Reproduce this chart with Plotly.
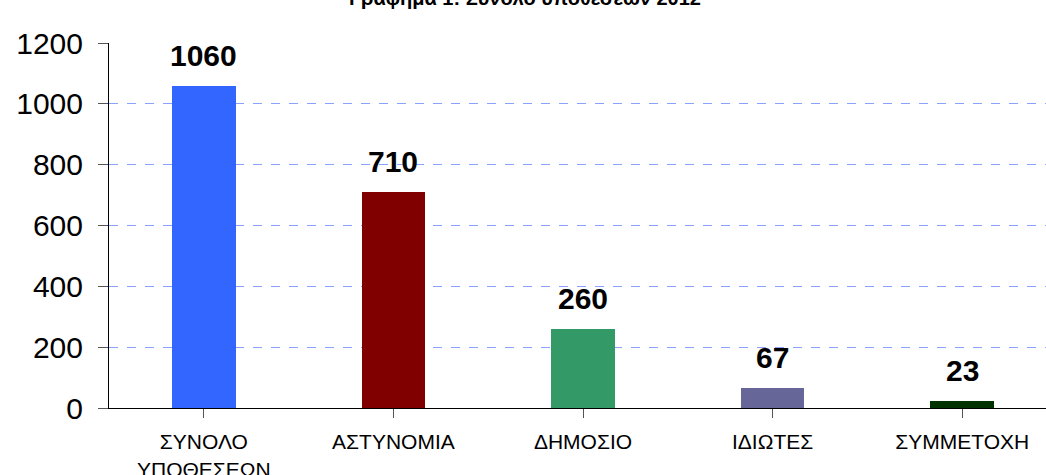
import plotly.graph_objects as go

categories = ["ΣΥΝΟΛΟ<br>ΥΠΟΘΕΣΕΩΝ", "ΑΣΤΥΝΟΜΙΑ", "ΔΗΜΟΣΙΟ", "ΙΔΙΩΤΕΣ", "ΣΥΜΜΕΤΟΧΗ"]
values = [1060, 710, 260, 67, 23]
colors = ["#3366ff", "#800000", "#339966", "#666699", "#003300"]
title_text = "Γράφημα 1: Σύνολο υποθέσεων 2012"

W, H = 1046, 475
left, top, bottom = 109, 43, 408
plot_h = bottom - top
bin_px = 189.6
plot_w = W - left
x_hi = -0.5 + plot_w / bin_px

fig = go.Figure()
fig.add_trace(go.Bar(
    x=list(range(len(categories))), y=values,
    marker=dict(color=colors, line=dict(width=0)),
    width=0.335, hoverinfo="skip",
))

for i, v in enumerate(values):
    fig.add_annotation(x=i, y=v, text=f"<b>{v}</b>", showarrow=False,
                       yanchor="bottom", yshift=12,
                       font=dict(family="Liberation Sans, Arial", size=30, color="black"))

fig.add_annotation(xref="paper", yref="paper", x=(525 - left) / plot_w,
                   y=1 + (top - 11) / plot_h, yanchor="bottom", xanchor="center",
                   text=f"<b>{title_text}</b>", showarrow=False,
                   font=dict(family="Liberation Sans, Arial", size=20, color="black"))

fig.update_layout(
    width=W, height=H,
    margin=dict(l=left, r=0, t=top, b=H - bottom, pad=0, autoexpand=False),
    paper_bgcolor="white", plot_bgcolor="white",
    showlegend=False,
    bargap=0,
    xaxis=dict(
        range=[-0.5, x_hi], tickmode="array",
        tickvals=list(range(len(categories))), ticktext=categories,
        showgrid=False, zeroline=False, automargin=False,
        showline=True, linecolor="black", linewidth=1,
        ticks="outside", ticklen=9, tickcolor="#555555",
        tickfont=dict(family="Liberation Sans, Arial", size=21, color="black"),
        ticklabelstandoff=6,
        fixedrange=True,
    ),
    yaxis=dict(
        range=[0, 1200], tickmode="array", tickvals=[0, 200, 400, 600, 800, 1000, 1200],
        showgrid=True, gridcolor="#8aa2ff", griddash="dash", gridwidth=1,
        zeroline=False, showline=True, linecolor="black", linewidth=1,
        automargin=False,
        ticks="outside", ticklen=10, tickcolor="#555555",
        tickfont=dict(family="Liberation Sans, Arial", size=30, color="black"),
        ticklabelstandoff=9,
        fixedrange=True,
    ),
)

fig.update_xaxes(tickson="boundaries")

fig.write_html("out.html", config={"displayModeBar": False},
               post_script="document.body.style.margin='0';")
